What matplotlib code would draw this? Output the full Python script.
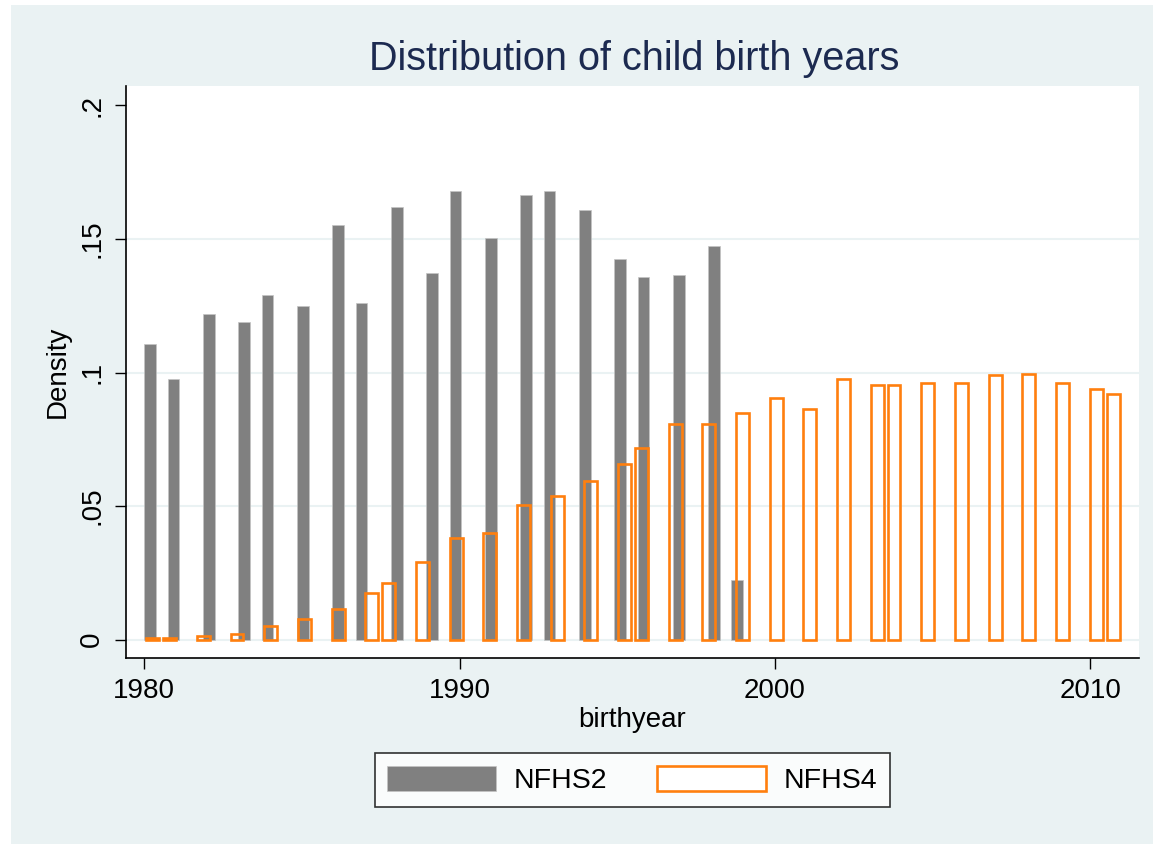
import matplotlib
matplotlib.use("Agg")
import matplotlib.pyplot as plt
from matplotlib.patches import Rectangle, Patch

# ---- data ----
nfhs2_x = [1980.19, 1980.93, 1982.05, 1983.17, 1983.91, 1985.03, 1986.15, 1986.89,
           1988.01, 1989.13, 1989.87, 1990.99, 1992.11, 1992.85, 1993.97, 1995.09,
           1995.83, 1996.95, 1998.07, 1998.81]
nfhs2_y = [0.1107, 0.0975, 0.1219, 0.1191, 0.1291, 0.1251, 0.1554, 0.1262,
           0.1619, 0.1374, 0.1681, 0.1503, 0.1663, 0.1681, 0.1609, 0.1427,
           0.1356, 0.1367, 0.1474, 0.0222]

nfhs4_x = [1980.27, 1980.80, 1981.87, 1982.94, 1984.01, 1985.08, 1986.15, 1987.22,
           1987.75, 1988.82, 1989.89, 1990.96, 1992.03, 1993.10, 1994.16, 1995.23,
           1995.77, 1996.84, 1997.90, 1998.97, 2000.04, 2001.11, 2002.18, 2003.25,
           2003.78, 2004.85, 2005.92, 2006.99, 2008.06, 2009.13, 2010.20, 2010.73]
nfhs4_y = [0.0005, 0.0005, 0.0014, 0.0020, 0.0050, 0.0079, 0.0114, 0.0173,
           0.0213, 0.0291, 0.0380, 0.0399, 0.0503, 0.0537, 0.0593, 0.0659,
           0.0716, 0.0809, 0.0806, 0.0849, 0.0905, 0.0864, 0.0976, 0.0955,
           0.0953, 0.0960, 0.0959, 0.0989, 0.0996, 0.0959, 0.0940, 0.0919]

xticks = [1980, 1990, 2000, 2010]
yticks = [0, 0.05, 0.1, 0.15, 0.2]
ytick_labels = ["0", ".05", ".1", ".15", ".2"]
series_labels = ["NFHS2", "NFHS4"]

# ---- style ----
plt.rcParams['font.family'] = ['Liberation Sans', 'DejaVu Sans']
BG = '#EAF2F3'
GRAY = '#808080'
ORANGE = '#FF7F0E'
TITLE_C = '#1C2A50'

W, H = 1153, 844
fig = plt.figure(figsize=(W / 100, H / 100), dpi=100, facecolor='white')
fig.patches.append(Rectangle((11 / W, 0), 1 - 11 / W, 1 - 5 / H,
                             transform=fig.transFigure, facecolor=BG,
                             edgecolor='none', zorder=-10))

ax = fig.add_axes([126 / W, 1 - 658.3 / H, (1139.3 - 126) / W, (658.3 - 86) / H])
ax.set_facecolor('white')

ax.bar(nfhs2_x, nfhs2_y, width=0.37, color=GRAY, edgecolor='#c4c4c4',
       linewidth=0.5, zorder=2)
ax.bar(nfhs4_x, nfhs4_y, width=0.41, facecolor='none', edgecolor=ORANGE,
       linewidth=1.9, zorder=3)

ax.set_xlim(1979.42, 2011.56)
ax.set_ylim(-0.0070, 0.2073)

ax.set_xticks(xticks)
ax.set_xticklabels([str(t) for t in xticks])
ax.set_yticks(yticks)
ax.set_yticklabels(ytick_labels, rotation=90, va='center')

for y in yticks[:-1]:
    ax.axhline(y, color=BG, linewidth=1.5, zorder=1)

for s in ['top', 'right']:
    ax.spines[s].set_visible(False)
for s in ['left', 'bottom']:
    ax.spines[s].set_linewidth(1.2)
    ax.spines[s].set_color('black')

ax.tick_params(axis='both', direction='out', length=8, width=1.0,
               labelsize=20, colors='black')
ax.tick_params(axis='x', pad=6)
ax.tick_params(axis='y', pad=7)

fig.text(57.5 / W, 1 - 372 / H, 'Density', rotation=90, fontsize=20,
         ha='center', va='center')
fig.text(632 / W, 1 - 720 / H, 'birthyear', fontsize=20,
         ha='center', va='center')
fig.text(634 / W, 1 - 59 / H, 'Distribution of child birth years',
         fontsize=28.5, color=TITLE_C, ha='center', va='center')

handles = [Patch(facecolor=GRAY, edgecolor='#c4c4c4', linewidth=0.5),
           Patch(facecolor='white', edgecolor=ORANGE, linewidth=1.9)]
leg = fig.legend(handles, series_labels, loc='center',
                 bbox_to_anchor=(632.5 / W, 1 - 780 / H), ncol=2,
                 fontsize=20.5, frameon=True, fancybox=False,
                 handlelength=3.8, handleheight=1.0, handletextpad=0.65,
                 columnspacing=1.75, borderpad=0.45)
leg.get_frame().set_edgecolor('black')
leg.get_frame().set_linewidth(1.2)
leg.get_frame().set_facecolor('white')

fig.savefig('out.png', dpi=100, facecolor=fig.get_facecolor())
